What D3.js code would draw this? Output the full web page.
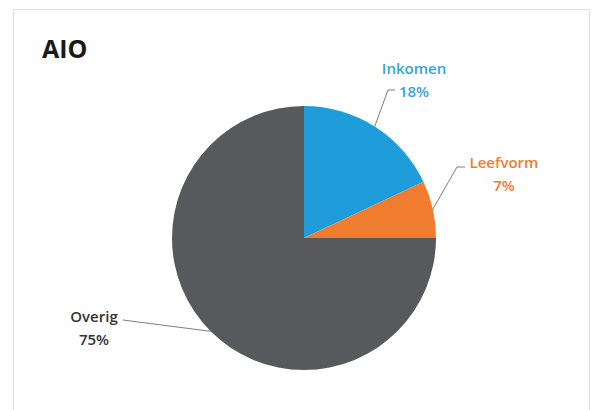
<!DOCTYPE html>
<html>
<head>
<meta charset="utf-8">
<script src="https://cdn.jsdelivr.net/npm/d3@7"></script>
<style>
  body { margin: 0; background: #fff; }
  text { font-family: "Open Sans", "DejaVu Sans", sans-serif; }
</style>
</head>
<body>
<svg id="chart" width="592" height="410"></svg>
<script>
// chart data
var categories = ["Inkomen", "Leefvorm", "Overig"];
var values = [18, 7, 75];
var sliceColors = ["#1f9ddb", "#f07c30", "#58595c"];
var labelColors = ["#36a4dc", "#ee7d31", "#333333"];

var width = 592, height = 410;
var cx = 304, cy = 238, radius = 132;

var svg = d3.select("#chart");

// faint frame round the chart area
svg.append("rect")
    .attr("x", 13.5).attr("y", 9.5)
    .attr("width", 576).attr("height", 410)
    .attr("fill", "none")
    .attr("stroke", "#e0e0e0")
    .attr("stroke-width", 1);

svg.append("text")
    .attr("x", 42).attr("y", 58)
    .attr("font-size", 25)
    .attr("font-weight", "bold")
    .attr("fill", "#1a1a1a")
    .text("AIO");

var data = categories.map(function (c, i) {
    return {name: c, value: values[i], color: sliceColors[i], labelColor: labelColors[i]};
});

var pie = d3.pie().sort(null).value(function (d) { return d.value; });
var arc = d3.arc().innerRadius(0).outerRadius(radius);
var arcs = pie(data);

var g = svg.append("g").attr("transform", "translate(" + cx + "," + cy + ")");

g.selectAll("path.slice")
    .data(arcs)
    .enter().append("path")
    .attr("class", "slice")
    .attr("d", arc)
    .attr("fill", function (d) { return d.data.color; });

// label positions (relative to the pie centre)
var labelPos = [
    {x: 110, y: -164, elbow: [84, -148], line0: [91, -148]},
    {x: 200, y: -70, elbow: [153, -71], line0: [161, -71]},
    {x: -210, y: 84, elbow: [-181, 82], line0: [-181, 82]}
];

arcs.forEach(function (d, i) {
    var p = labelPos[i];
    var mid = (d.startAngle + d.endAngle) / 2;
    var edge = [Math.sin(mid) * radius, -Math.cos(mid) * radius];
    var pts = [p.line0, p.elbow, edge];
    g.append("path")
        .attr("d", d3.line()(pts))
        .attr("fill", "none")
        .attr("stroke", "#7f7f7f")
        .attr("stroke-width", 1);

    var t = g.append("text")
        .attr("text-anchor", "middle")
        .attr("font-size", 15)
        .attr("font-weight", 600)
        .attr("fill", d.data.labelColor);
    t.append("tspan").attr("x", p.x).attr("y", p.y).text(d.data.name);
    t.append("tspan").attr("x", p.x).attr("y", p.y + 23).text(d.data.value + "%");
});
</script>
</body>
</html>
